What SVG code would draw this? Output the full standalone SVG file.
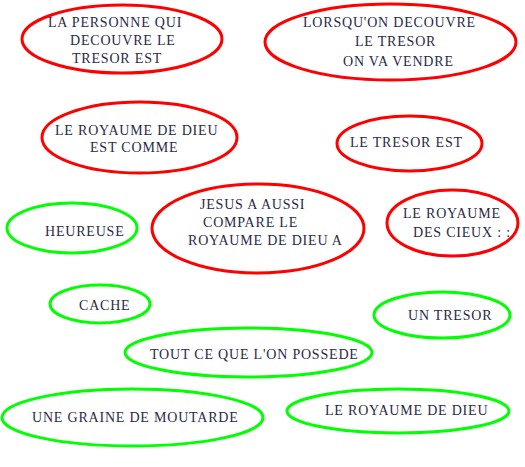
<svg xmlns="http://www.w3.org/2000/svg" width="525" height="467" viewBox="0 0 525 467">
<style>
.r{fill:none;stroke:#ff0000;stroke-width:3}
.g{fill:none;stroke:#00ff00;stroke-width:3}
.t{font-family:'Liberation Serif','Tinos','DejaVu Serif',serif;font-size:14px;letter-spacing:0.8px;fill:#2a2a48}
</style>
<rect width="525" height="467" fill="#ffffff"/>
<g id="connectors"></g>
<g class="t">
<g id="n1"><ellipse class="r" cx="122" cy="39" rx="100" ry="34"/>
<text x="48" y="27">LA PERSONNE QUI</text><text x="70" y="45">DECOUVRE LE</text><text x="72" y="63">TRESOR EST</text></g>
<g id="n2"><ellipse class="r" cx="390.5" cy="42" rx="125.5" ry="38"/>
<text x="303" y="27">LORSQU'ON DECOUVRE</text><text x="355" y="46">LE TRESOR</text><text x="343" y="66">ON VA VENDRE</text></g>
<g id="n3"><ellipse class="r" cx="139.5" cy="137.5" rx="97.5" ry="35.5"/>
<text x="55" y="135">LE ROYAUME DE DIEU</text><text x="90" y="152">EST COMME</text></g>
<g id="n4"><ellipse class="r" cx="409.5" cy="143.5" rx="72.5" ry="27.5"/>
<text x="350" y="147">LE TRESOR EST</text></g>
<g id="n5"><ellipse class="g" cx="72" cy="228" rx="65" ry="25"/>
<text x="45" y="236">HEUREUSE</text></g>
<g id="n6"><ellipse class="r" cx="258" cy="228.5" rx="106" ry="44.5"/>
<text x="200" y="209">JESUS A AUSSI</text><text x="203" y="227">COMPARE LE</text><text x="188" y="245">ROYAUME DE DIEU A</text></g>
<g id="n7"><ellipse class="r" cx="452.5" cy="223" rx="65.5" ry="33"/>
<text x="403" y="218">LE ROYAUME</text><text x="413" y="237">DES CIEUX : :</text></g>
<g id="n8"><ellipse class="g" cx="100" cy="304" rx="50" ry="19"/>
<text x="79" y="310">CACHE</text></g>
<g id="n9"><ellipse class="g" cx="442" cy="315" rx="68" ry="23"/>
<text x="408" y="320">UN TRESOR</text></g>
<g id="n10"><ellipse class="g" cx="248.5" cy="352.5" rx="123.5" ry="24.5"/>
<text x="150" y="359">TOUT CE QUE L'ON POSSEDE</text></g>
<g id="n11"><ellipse class="g" cx="132.5" cy="417.5" rx="130.5" ry="28.5"/>
<text x="32" y="422">UNE GRAINE DE MOUTARDE</text></g>
<g id="n12"><ellipse class="g" cx="398" cy="411" rx="111" ry="22"/>
<text x="325" y="415">LE ROYAUME DE DIEU</text></g>
</g>
</svg>
